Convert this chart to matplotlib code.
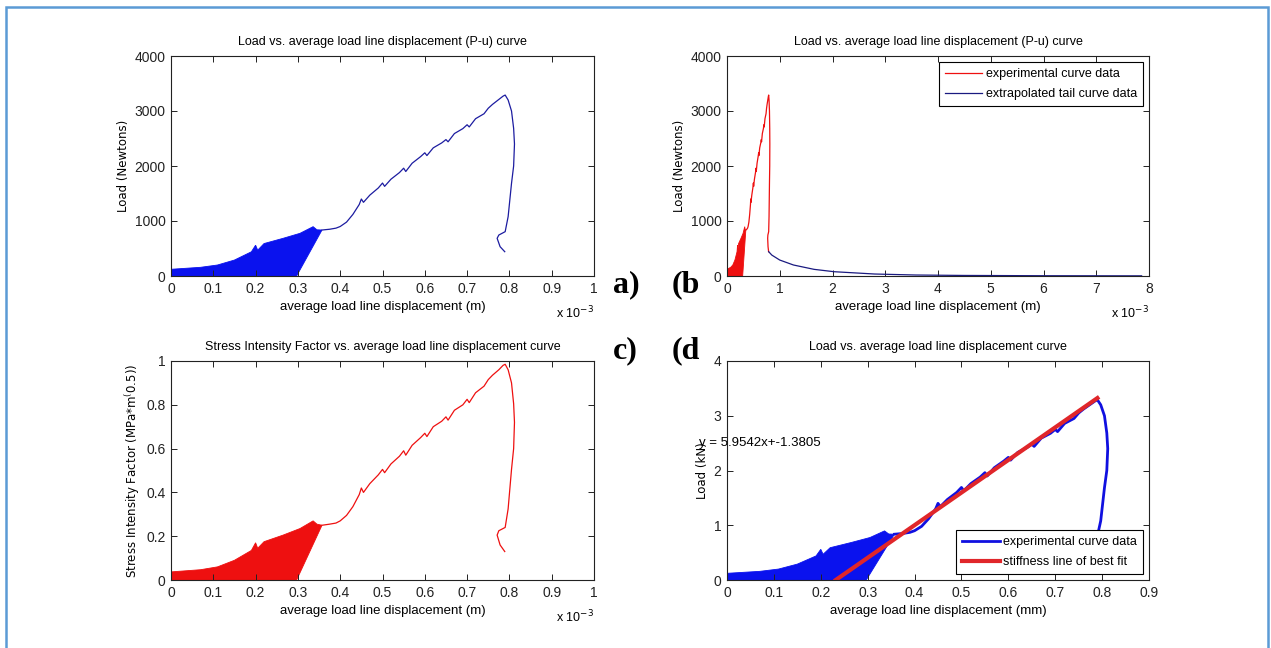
import matplotlib
matplotlib.use('Agg')
import matplotlib.pyplot as plt
from matplotlib.patches import Rectangle

# load line displacement (mm) and load (N) of the main curve, past the cyclic part
disp = [0.357, 0.375, 0.39, 0.40, 0.415, 0.43, 0.445, 0.45, 0.455, 0.47, 0.49, 0.50,
        0.505, 0.52, 0.54, 0.55, 0.555, 0.57, 0.59, 0.60, 0.605, 0.62, 0.64, 0.65,
        0.655, 0.67, 0.69, 0.70, 0.705, 0.72, 0.74, 0.75, 0.76, 0.775, 0.785, 0.790,
        0.797, 0.805, 0.81, 0.812, 0.81, 0.805, 0.797, 0.79, 0.775, 0.771, 0.778, 0.789]
load = [836, 850, 870, 900, 980, 1120, 1300, 1400, 1340, 1470, 1600, 1690,
        1630, 1760, 1880, 1960, 1900, 2050, 2170, 2240, 2190, 2330, 2420, 2480,
        2440, 2590, 2680, 2750, 2710, 2860, 2950, 3050, 3120, 3210, 3270, 3290,
        3200, 3000, 2685, 2400, 2000, 1685, 1079, 806, 745, 685, 533, 442]
# stress intensity factor (MPa*m^0.5) for the same points
sif = [0.25, 0.255, 0.26, 0.27, 0.295, 0.335, 0.39, 0.42, 0.40, 0.44, 0.48, 0.505,
       0.49, 0.53, 0.565, 0.59, 0.57, 0.615, 0.65, 0.67, 0.655, 0.70, 0.725, 0.745,
       0.73, 0.775, 0.80, 0.825, 0.81, 0.855, 0.885, 0.915, 0.935, 0.96, 0.98, 0.985,
       0.96, 0.90, 0.805, 0.72, 0.60, 0.505, 0.325, 0.24, 0.225, 0.205, 0.16, 0.13]

# outline of the dense cyclic loading region (polygon)
cyc_disp = [0, 0.07, 0.11, 0.15, 0.19, 0.20, 0.205, 0.22, 0.265, 0.305, 0.336, 0.345, 0.357, 0.297, 0]
cyc_load = [122, 158, 200, 290, 440, 560, 470, 590, 685, 776, 897, 840, 836, 0, 0]
cyc_sif = [0.037, 0.047, 0.06, 0.09, 0.135, 0.17, 0.145, 0.175, 0.205, 0.235, 0.27, 0.255, 0.25, 0, 0]

# extrapolated tail (mm, N)
tail_disp = [0.79, 0.85, 1.0, 1.26, 1.65, 2.03, 2.8, 3.58, 4.5, 6.0, 7.86]
tail_load = [442, 380, 290, 200, 121, 78, 36, 18, 10, 5, 3]

# stiffness fit, kN vs mm
fit_slope = 5.9542
fit_icpt = -1.3805
fit_x = [0.2319, 0.79]
fit_y = [fit_slope * x + fit_icpt for x in fit_x]

plt.rcParams['font.family'] = 'Liberation Sans'

W, H = 1271, 648
fig = plt.figure(figsize=(W / 100, H / 100), dpi=100)

def px_axes(l, t, r, b):
    return fig.add_axes([l / W, 1 - b / H, (r - l) / W, (b - t) / H])

def matlab_style(ax):
    ax.tick_params(direction='in', top=True, right=True, length=4, width=0.7,
                   labelsize=10, colors='#222222', pad=4)
    for s in ax.spines.values():
        s.set_linewidth(0.8)
        s.set_color('#222222')

blue_line = '#1c1ca0'
blue_fill = '#0a12ee'
red = '#ee1010'
ylab_kw = dict(fontsize=8.5, family='DejaVu Sans', labelpad=3)
leg_kw = dict(fontsize=9, fancybox=False, framealpha=1, edgecolor='black',
              handlelength=3.0, handletextpad=0.3, borderaxespad=0.5,
              labelspacing=0.65, borderpad=0.45)

# a)
ax = px_axes(171, 56, 594, 276)
ax.fill(cyc_disp, cyc_load, color=blue_fill, lw=0.6)
ax.plot(disp, load, color=blue_line, lw=0.9)
ax.set_xlim(0, 1)
ax.set_ylim(0, 4000)
ax.set_xticks([0, 0.1, 0.2, 0.3, 0.4, 0.5, 0.6, 0.7, 0.8, 0.9, 1])
ax.set_xticklabels(['0', '0.1', '0.2', '0.3', '0.4', '0.5', '0.6', '0.7', '0.8', '0.9', '1'])
ax.set_yticks([0, 1000, 2000, 3000, 4000])
ax.set_title('Load vs. average load line displacement (P-u) curve', fontsize=9, pad=8)
ax.set_xlabel('average load line displacement (m)', fontsize=9.5, labelpad=4)
ax.set_ylabel('Load (Newtons)', **ylab_kw)
ax.text(1.0, -0.17, r'x 10$^{-3}$', transform=ax.transAxes, ha='right', va='center', fontsize=9)
matlab_style(ax)

# b)
ax = px_axes(727, 56, 1149, 276)
ax.fill(cyc_disp, cyc_load, color=red, lw=0.6)
ax.plot(disp, load, color=red, lw=0.9, label='experimental curve data')
ax.plot(tail_disp, tail_load, color='#1a1a80', lw=0.9, label='extrapolated tail curve data')
ax.set_xlim(0, 8)
ax.set_ylim(0, 4000)
ax.set_xticks(range(0, 9))
ax.set_yticks([0, 1000, 2000, 3000, 4000])
ax.set_title('Load vs. average load line displacement (P-u) curve', fontsize=9, pad=8)
ax.set_xlabel('average load line displacement (m)', fontsize=9.5, labelpad=4)
ax.set_ylabel('Load (Newtons)', **ylab_kw)
ax.text(1.0, -0.17, r'x 10$^{-3}$', transform=ax.transAxes, ha='right', va='center', fontsize=9)
leg = ax.legend(loc='upper right', **leg_kw)
leg.get_frame().set_linewidth(0.8)
matlab_style(ax)

# c)
ax = px_axes(171, 361, 594, 580)
ax.fill(cyc_disp, cyc_sif, color=red, lw=0.6)
ax.plot(disp, sif, color=red, lw=0.9)
ax.set_xlim(0, 1)
ax.set_ylim(0, 1)
ax.set_xticks([0, 0.1, 0.2, 0.3, 0.4, 0.5, 0.6, 0.7, 0.8, 0.9, 1])
ax.set_xticklabels(['0', '0.1', '0.2', '0.3', '0.4', '0.5', '0.6', '0.7', '0.8', '0.9', '1'])
ax.set_yticks([0, 0.2, 0.4, 0.6, 0.8, 1])
ax.set_yticklabels(['0', '0.2', '0.4', '0.6', '0.8', '1'])
ax.set_title('Stress Intensity Factor vs. average load line displacement curve', fontsize=9, pad=8)
ax.set_xlabel('average load line displacement (m)', fontsize=9.5, labelpad=4)
ax.set_ylabel(r'Stress Intensity Factor (MPa*m$^($0.5))', **ylab_kw)
ax.text(1.0, -0.17, r'x 10$^{-3}$', transform=ax.transAxes, ha='right', va='center', fontsize=9)
matlab_style(ax)

# d)
ax = px_axes(727, 361, 1149, 580)
ax.fill(cyc_disp, [v / 1000 for v in cyc_load], color=blue_fill, lw=0.6)
ax.plot(disp, [v / 1000 for v in load], color='#1010e0', lw=2, label='experimental curve data')
ax.plot(fit_x, fit_y, color='#e0262a', lw=3, label='stiffness line of best fit')
ax.set_xlim(0, 0.9)
ax.set_ylim(0, 4)
ax.set_xticks([0, 0.1, 0.2, 0.3, 0.4, 0.5, 0.6, 0.7, 0.8, 0.9])
ax.set_xticklabels(['0', '0.1', '0.2', '0.3', '0.4', '0.5', '0.6', '0.7', '0.8', '0.9'])
ax.set_yticks([0, 1, 2, 3, 4])
ax.set_title('Load vs. average load line displacement curve', fontsize=9, pad=8)
ax.set_xlabel('average load line displacement (mm)', fontsize=9.5, labelpad=4)
ax.set_ylabel('Load (kN)', **ylab_kw)
ax.text(-0.06, 2.5, 'y = %.4fx+%.4f' % (fit_slope, fit_icpt), fontsize=9.5,
        ha='left', va='center', clip_on=False)
leg = ax.legend(loc='lower right', **leg_kw)
leg.get_frame().set_linewidth(0.8)
matlab_style(ax)

# panel letters
for txt, x, y in [('a)', 613, 292), ('(b', 672, 292), ('c)', 613, 358), ('(d', 672, 358)]:
    fig.text(x / W, 1 - y / H, txt, family='Liberation Serif', weight='bold',
             fontsize=23, ha='left', va='baseline')

# light blue frame
fig.patches.append(Rectangle((6 / W, -0.05), (1268 - 6) / W, 1.05 - 7 / H,
                             transform=fig.transFigure, fill=False,
                             edgecolor='#5b9bd5', lw=1.8))

fig.savefig('out.png', dpi=100)
